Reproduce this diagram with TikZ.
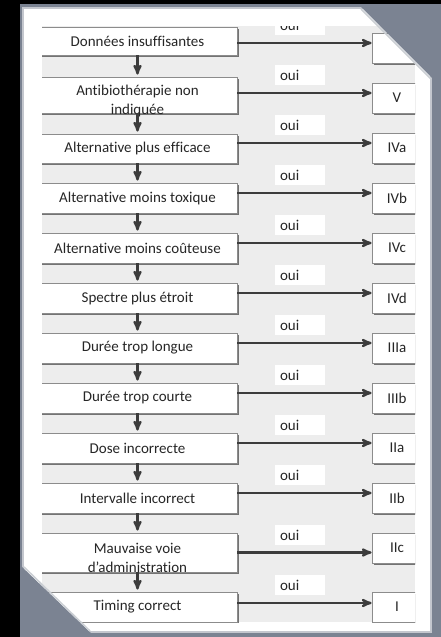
\documentclass[tikz,border=0pt]{standalone}
\usepackage{fontspec}
\setmainfont{Carlito}[Ligatures={TeX,NoCommon}]
\usepackage{tikz}
\usetikzlibrary{arrows, shadows}

\definecolor{framegray}{HTML}{7B8392}
\definecolor{bandgray}{HTML}{EDEDED}
\definecolor{boxline}{HTML}{8C8C8C}
\definecolor{arrowgray}{HTML}{3C3C3C}

\tikzset{
  lbox/.style={draw=boxline, fill=white, line width=0.8pt, minimum width=199pt,
    minimum height=30pt, inner sep=0pt,
    drop shadow={shadow xshift=1.5pt, shadow yshift=-1.5pt, fill=black!60, opacity=0.9}},
  rbox/.style={lbox, minimum width=50pt},
  ouibox/.style={fill=white, minimum width=50pt, minimum height=20pt, text width=40pt,
    inner xsep=5pt, align=left},
  harrow/.style={->, >=stealth', line width=2.2pt, draw=arrowgray},
  varrow/.style={->, >=stealth', line width=2.2pt, draw=arrowgray, shorten >=2pt}
}

\begin{document}
\begin{tikzpicture}[x=1pt, y=-1pt, font=\fontsize{15}{19}\selectfont, text=black!85]
    \useasboundingbox (0,0) rectangle (441,637);
    % frame and sheet
    \fill[black] (0,0) rectangle (441,637);
    \fill[framegray] (20,4) rectangle (441,637);
    \fill[white, draw=framegray!45!white, line width=1.5pt] (23,8) rectangle (431,632);

    \begin{scope}
        \clip (42,26) rectangle (415,622);
        \fill[bandgray] (42,26) rectangle (415,622);

        \node[ouibox] (o1) at (300,25) {oui};
        \node[ouibox] (o2) at (300,75) {oui};
        \node[ouibox] (o3) at (300,125) {oui};
        \node[ouibox] (o4) at (300,175) {oui};
        \node[ouibox] (o5) at (300,225) {oui};
        \node[ouibox] (o6) at (300,275) {oui};
        \node[ouibox] (o7) at (300,325) {oui};
        \node[ouibox] (o8) at (300,375) {oui};
        \node[ouibox] (o9) at (300,425) {oui};
        \node[ouibox] (o10) at (300,475) {oui};
        \node[ouibox] (o11) at (300,535) {oui};
        \node[ouibox] (o12) at (300,585) {oui};

        \node[lbox, minimum height=28pt] (l1) at (137.5,41) {Données insuffisantes};
        \node[lbox, minimum height=36pt] (l2) at (137.5,95) {};
        \node[align=center] (l2t) at (137.5,101) {Antibiothérapie non\\indiquée};
        \node[lbox, minimum height=29pt] (l3) at (137.5,148.5) {Alternative plus efficace};
        \node[lbox] (l4) at (137.5,198) {Alternative moins toxique};
        \node[lbox] (l5) at (137.5,248) {Alternative moins coûteuse};
        \node[lbox] (l6) at (137.5,298) {Spectre plus étroit};
        \node[lbox] (l7) at (137.5,348) {Durée trop longue};
        \node[lbox] (l8) at (137.5,398) {Durée trop courte};
        \node[lbox] (l9) at (137.5,448) {Dose incorrecte};
        \node[lbox] (l10) at (137.5,498) {Intervalle incorrect};
        \node[lbox, minimum height=39pt] (l11) at (137.5,552.5) {};
        \node[align=center] (l11t) at (137.5,558) {Mauvaise voie\\d'administration};
        \node[lbox] (l12) at (137.5,607) {Timing correct};

        \node[rbox] (r1) at (397,48) {};
        \node[rbox] (r2) at (397,98) {V};
        \node[rbox] (r3) at (397,148) {IVa};
        \node[rbox] (r4) at (397,198) {IVb};
        \node[rbox] (r5) at (397,248) {IVc};
        \node[rbox] (r6) at (397,298) {IVd};
        \node[rbox] (r7) at (397,348) {IIIa};
        \node[rbox] (r8) at (397,398) {IIIb};
        \node[rbox] (r9) at (397,448) {IIa};
        \node[rbox] (r10) at (397,498) {IIb};
        \node[rbox] (r11) at (397,548) {IIc};
        \node[rbox] (r12) at (397,607) {I};

        % down the left column
        \draw[varrow] (l1) -- (l2);
        \draw[varrow] (l2) -- (l3);
        \draw[varrow] (l3) -- (l4);
        \draw[varrow] (l4) -- (l5);
        \draw[varrow] (l5) -- (l6);
        \draw[varrow] (l6) -- (l7);
        \draw[varrow] (l7) -- (l8);
        \draw[varrow] (l8) -- (l9);
        \draw[varrow] (l9) -- (l10);
        \draw[varrow] (l10) -- (l11);
        \draw[varrow] (l11) -- (l12);

        % "oui" branches
        \draw[harrow] ([yshift=-2pt]l1.east) -- ([yshift=-2pt]l1.east -| r1.west);
        \draw[harrow] ([yshift=2pt]l2.east) -- ([yshift=2pt]l2.east -| r2.west);
        \draw[harrow] ([yshift=5.5pt]l3.east) -- ([yshift=5.5pt]l3.east -| r3.west);
        \draw[harrow] ([yshift=5pt]l4.east) -- ([yshift=5pt]l4.east -| r4.west);
        \draw[harrow] ([yshift=5pt]l5.east) -- ([yshift=5pt]l5.east -| r5.west);
        \draw[harrow] ([yshift=5pt]l6.east) -- ([yshift=5pt]l6.east -| r6.west);
        \draw[harrow] ([yshift=5pt]l7.east) -- ([yshift=5pt]l7.east -| r7.west);
        \draw[harrow] ([yshift=5pt]l8.east) -- ([yshift=5pt]l8.east -| r8.west);
        \draw[harrow] ([yshift=5pt]l9.east) -- ([yshift=5pt]l9.east -| r9.west);
        \draw[harrow] ([yshift=5pt]l10.east) -- ([yshift=5pt]l10.east -| r10.west);
        \draw[harrow] (l11.east) -- (l11.east -| r11.west);
        \draw[harrow] ([yshift=4pt]l12.east) -- ([yshift=4pt]l12.east -| r12.west);
    \end{scope}

    % folded corners
    \fill[framegray] (358,4) -- (441,4) -- (441,87) -- cycle;
    \fill[framegray] (20,565) -- (20,637) -- (95,637) -- cycle;
    \draw[white!60!framegray, line width=1.5pt] (361,9) -- (431,79);
    \draw[white!60!framegray, line width=1.5pt] (24,567) -- (90,631);
\end{tikzpicture}
\end{document}
